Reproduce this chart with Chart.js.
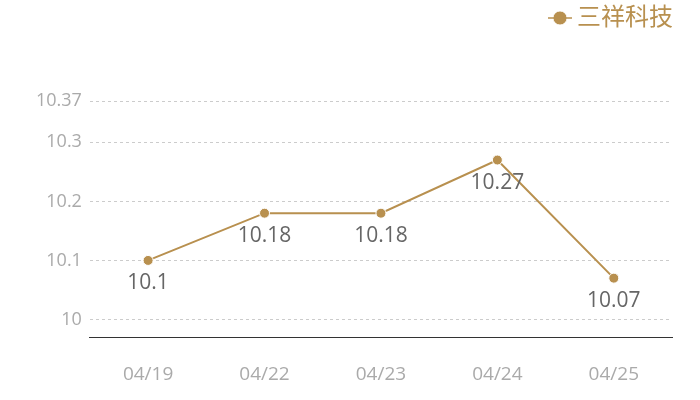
<!DOCTYPE html>
<html><head><meta charset="utf-8">
<script src="https://cdn.jsdelivr.net/npm/chart.js@4/dist/chart.umd.min.js"></script>
<style>html,body{margin:0;padding:0;background:#fff}#wrap{width:700px;height:400px}</style>
</head><body><div id="wrap"><canvas id="c"></canvas></div>
<script>
const categories = ["04/19","04/22","04/23","04/24","04/25"];
const seriesName = "三祥科技";
const prices = [10.1, 10.18, 10.18, 10.27, 10.07];
const yTicks = [10, 10.1, 10.2, 10.3, 10.37];
const yMin = 9.97, yMax = 10.37;
const GOLD = '#b8904f';
const FONT = "'Open Sans','Noto Sans CJK SC',sans-serif";

const labelPlugin = {
  id: 'valLabels',
  afterDatasetsDraw(chart) {
    const ctx = chart.ctx;
    const meta = chart.getDatasetMeta(0);
    ctx.save();
    ctx.font = "21px " + FONT;
    ctx.fillStyle = '#666';
    ctx.textAlign = 'center';
    ctx.textBaseline = 'middle';
    meta.data.forEach((pt, i) => {
      ctx.fillText(String(prices[i]), pt.x, pt.y + 23);
    });
    ctx.restore();
  }
};
const legendExtras = {
  id: 'legendExtras',
  beforeInit(chart) {
    const lg = chart.legend;
    if (!lg) return;
    const fit = lg.fit;
    lg.fit = function () {
      fit.call(this);
      this.height += 61;
      if (this.lineWidths && this.lineWidths.length) this.lineWidths[0] -= 3;
    };
  },
  afterDraw(chart) {
    const lg = chart.legend;
    if (!lg || !lg.legendHitBoxes || !lg.legendHitBoxes.length) return;
    const b = lg.legendHitBoxes[0];
    const ctx = chart.ctx;
    const cy = b.top + b.height / 2;
    const cx = b.left + 5;
    ctx.save();
    ctx.strokeStyle = GOLD;
    ctx.lineWidth = 1.5;
    ctx.beginPath();
    ctx.moveTo(cx - 12, cy); ctx.lineTo(cx + 12, cy);
    ctx.stroke();
    ctx.restore();
  }
};

new Chart(document.getElementById('c'), {
  type: 'line',
  data: {
    labels: categories,
    datasets: [{
      label: seriesName,
      data: prices,
      borderColor: GOLD,
      backgroundColor: GOLD,
      borderWidth: 2,
      pointRadius: 5,
      pointBorderColor: '#fff',
      pointBorderWidth: 1,
      pointBackgroundColor: GOLD,
      tension: 0
    }]
  },
  options: {
    responsive: true,
    maintainAspectRatio: false,
    animation: false,
    layout: { padding: { left: 28, right: 28, top: 4, bottom: -12 } },
    plugins: {
      legend: {
        position: 'top',
        align: 'end',
        labels: {
          usePointStyle: true,
          pointStyle: 'circle',
          boxWidth: 10, boxHeight: 10,
          padding: 2,
          color: GOLD,
          font: { size: 24, family: FONT }
        }
      },
      tooltip: { enabled: false }
    },
    scales: {
      x: {
        offset: true,
        grid: { display: false, drawTicks: false },
        border: { display: true, color: '#333', width: 1 },
        ticks: { color: '#aaa', font: { size: 19, family: FONT }, padding: 26 }
      },
      y: {
        min: yMin, max: yMax,
        afterBuildTicks(scale) { scale.ticks = yTicks.map(v => ({ value: v })); },
        grid: { color: '#ccc', drawTicks: false, tickLength: 0 },
        border: { display: false, dash: [3, 3] },
        ticks: { color: '#aaa', font: { size: 18, family: FONT }, padding: 8,
          callback: v => String(+v.toFixed(2)) }
      }
    }
  },
  plugins: [labelPlugin, legendExtras]
});
</script></body></html>
